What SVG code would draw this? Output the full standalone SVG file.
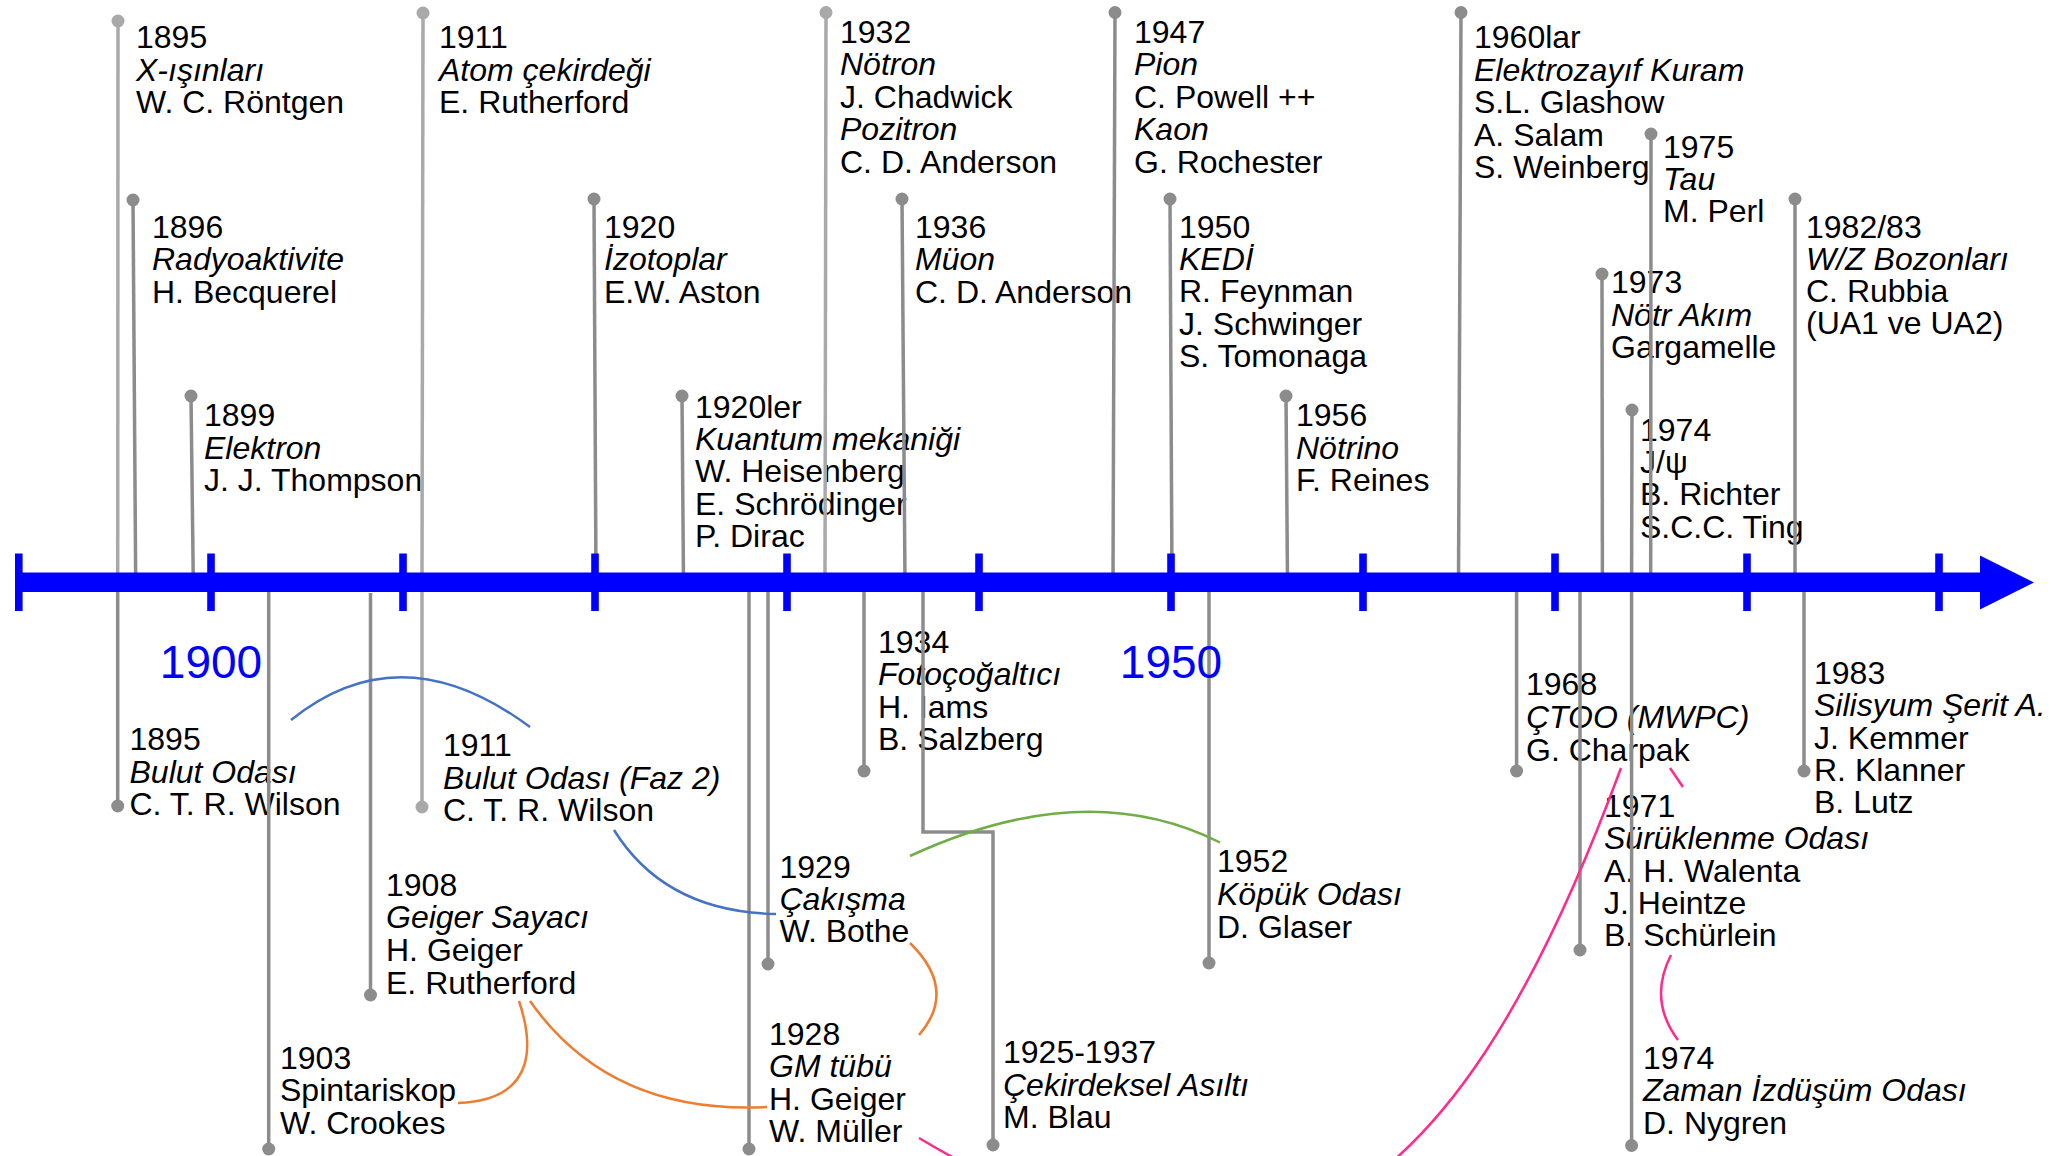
<svg xmlns="http://www.w3.org/2000/svg" width="2053" height="1156" viewBox="0 0 2053 1156">
<style>
  text { font-family: "Liberation Sans", Arial, sans-serif; font-size: 32px; fill: #000; }
  .i { font-style: italic; }
  .yr { font-size: 46px; fill: #0000ff; text-anchor: middle; }
  .s { stroke: #8c8c8c; stroke-width: 3.5; fill: none; }
  .sl { stroke: #a9a9a9; stroke-width: 3.5; fill: none; }
  .d { fill: #8c8c8c; }
  .dl { fill: #a9a9a9; }
  .c { fill: none; stroke-width: 2.5; }
  .blue { stroke: #4472c4; }
  .orange { stroke: #ed7d31; }
  .green { stroke: #70ad47; }
  .pink { stroke: #ff2a8e; }
</style>
<rect width="2053" height="1156" fill="#ffffff"/>

<!-- TOP EVENTS -->
<g id="ev-1895-xray">
  <line class="sl" x1="118" y1="21" x2="117.7" y2="582"/>
  <circle class="dl" cx="118" cy="21" r="6.5"/>
  <text x="136" y="48"><tspan x="136">1895</tspan><tspan x="136" dy="32.7" class="i">X-ışınları</tspan><tspan x="136" dy="32.7">W. C. Röntgen</tspan></text>
</g>
<g id="ev-1896">
  <line class="s" x1="133" y1="200" x2="135.7" y2="582"/>
  <circle class="d" cx="133" cy="200" r="6.5"/>
  <text x="152" y="237.5"><tspan x="152">1896</tspan><tspan x="152" dy="32.7" class="i">Radyoaktivite</tspan><tspan x="152" dy="32.7">H. Becquerel</tspan></text>
</g>
<g id="ev-1899">
  <line class="s" x1="191" y1="396" x2="193.3" y2="582"/>
  <circle class="d" cx="191" cy="396" r="6.5"/>
  <text x="204" y="426"><tspan x="204">1899</tspan><tspan x="204" dy="32.7" class="i">Elektron</tspan><tspan x="204" dy="32.7">J. J. Thompson</tspan></text>
</g>
<g id="ev-1911-atom">
  <line class="sl" x1="423" y1="13" x2="422" y2="582"/>
  <circle class="dl" cx="423" cy="13" r="6.5"/>
  <text x="439" y="48"><tspan x="439">1911</tspan><tspan x="439" dy="32.7" class="i">Atom çekirdeği</tspan><tspan x="439" dy="32.7">E. Rutherford</tspan></text>
</g>
<g id="ev-1920">
  <line class="s" x1="594" y1="199" x2="596" y2="582"/>
  <circle class="d" cx="594" cy="199" r="6.5"/>
  <text x="604" y="237.5"><tspan x="604">1920</tspan><tspan x="604" dy="32.7" class="i">İzotoplar</tspan><tspan x="604" dy="32.7">E.W. Aston</tspan></text>
</g>
<g id="ev-1920ler">
  <line class="s" x1="682" y1="396" x2="683.5" y2="582"/>
  <circle class="d" cx="682" cy="396" r="6.5"/>
  <text x="695" y="418"><tspan x="695">1920ler</tspan><tspan x="695" dy="32.2" class="i">Kuantum mekaniği</tspan><tspan x="695" dy="32.2">W. Heisenberg</tspan><tspan x="695" dy="32.2">E. Schrödinger</tspan><tspan x="695" dy="32.2">P. Dirac</tspan></text>
</g>
<g id="ev-1932">
  <line class="sl" x1="826" y1="12.5" x2="825" y2="582"/>
  <circle class="dl" cx="826" cy="12.5" r="6.5"/>
  <text x="840" y="43"><tspan x="840">1932</tspan><tspan x="840" dy="32.4" class="i">Nötron</tspan><tspan x="840" dy="32.4">J. Chadwick</tspan><tspan x="840" dy="32.4" class="i">Pozitron</tspan><tspan x="840" dy="32.4">C. D. Anderson</tspan></text>
</g>
<g id="ev-1936">
  <line class="s" x1="902" y1="199" x2="905" y2="582"/>
  <circle class="d" cx="902" cy="199" r="6.5"/>
  <text x="915" y="237.5"><tspan x="915">1936</tspan><tspan x="915" dy="32.7" class="i">Müon</tspan><tspan x="915" dy="32.7">C. D. Anderson</tspan></text>
</g>
<g id="ev-1947">
  <line class="s" x1="1115" y1="12.5" x2="1113" y2="582"/>
  <circle class="d" cx="1115" cy="12.5" r="6.5"/>
  <text x="1134" y="43"><tspan x="1134">1947</tspan><tspan x="1134" dy="32.4" class="i">Pion</tspan><tspan x="1134" dy="32.4">C. Powell ++</tspan><tspan x="1134" dy="32.4" class="i">Kaon</tspan><tspan x="1134" dy="32.4">G. Rochester</tspan></text>
</g>
<g id="ev-1950">
  <line class="s" x1="1170" y1="199" x2="1172" y2="582"/>
  <circle class="d" cx="1170" cy="199" r="6.5"/>
  <text x="1179" y="237.5"><tspan x="1179">1950</tspan><tspan x="1179" dy="32.4" class="i">KEDİ</tspan><tspan x="1179" dy="32.4">R. Feynman</tspan><tspan x="1179" dy="32.4">J. Schwinger</tspan><tspan x="1179" dy="32.4">S. Tomonaga</tspan></text>
</g>
<g id="ev-1956">
  <line class="s" x1="1286" y1="396" x2="1287.5" y2="582"/>
  <circle class="d" cx="1286" cy="396" r="6.5"/>
  <text x="1296" y="426"><tspan x="1296">1956</tspan><tspan x="1296" dy="32.7" class="i">Nötrino</tspan><tspan x="1296" dy="32.7">F. Reines</tspan></text>
</g>
<g id="ev-1960lar">
  <line class="s" x1="1461" y1="12.5" x2="1458.5" y2="582"/>
  <circle class="d" cx="1461" cy="12.5" r="6.5"/>
  <text x="1474" y="48"><tspan x="1474">1960lar</tspan><tspan x="1474" dy="32.6" class="i">Elektrozayıf Kuram</tspan><tspan x="1474" dy="32.6">S.L. Glashow</tspan><tspan x="1474" dy="32.6">A. Salam</tspan><tspan x="1474" dy="32.6">S. Weinberg</tspan></text>
</g>
<g id="ev-1973">
  <line class="s" x1="1602" y1="274" x2="1602.4" y2="582"/>
  <circle class="d" cx="1602" cy="274" r="6.5"/>
  <text x="1611" y="293"><tspan x="1611">1973</tspan><tspan x="1611" dy="32.5" class="i">Nötr Akım</tspan><tspan x="1611" dy="32.5">Gargamelle</tspan></text>
</g>
<g id="ev-1974-jpsi">
  <line class="s" x1="1632" y1="410" x2="1631.6" y2="582"/>
  <circle class="d" cx="1632" cy="410" r="6.5"/>
  <text x="1640" y="440.5"><tspan x="1640">1974</tspan><tspan x="1640" dy="32.4">J/ψ</tspan><tspan x="1640" dy="32.4">B. Richter</tspan><tspan x="1640" dy="32.4">S.C.C. Ting</tspan></text>
</g>
<g id="ev-1975">
  <line class="s" x1="1651" y1="134" x2="1650.7" y2="582"/>
  <circle class="d" cx="1651" cy="134" r="6.5"/>
  <text x="1663" y="158"><tspan x="1663">1975</tspan><tspan x="1663" dy="32" class="i">Tau</tspan><tspan x="1663" dy="32">M. Perl</tspan></text>
</g>
<g id="ev-1982">
  <line class="s" x1="1795" y1="199" x2="1795" y2="582"/>
  <circle class="d" cx="1795" cy="199" r="6.5"/>
  <text x="1806" y="237.5"><tspan x="1806">1982/83</tspan><tspan x="1806" dy="32.2" class="i">W/Z Bozonları</tspan><tspan x="1806" dy="32.2">C. Rubbia</tspan><tspan x="1806" dy="32.2">(UA1 ve UA2)</tspan></text>
</g>

<!-- BOTTOM EVENTS -->
<g id="ev-1895-bulut">
  <line class="s" x1="117.7" y1="586" x2="117.7" y2="806"/>
  <circle class="d" cx="117.7" cy="806" r="6.5"/>
  <text x="129.5" y="750"><tspan x="129.5">1895</tspan><tspan x="129.5" dy="32.7" class="i">Bulut Odası</tspan><tspan x="129.5" dy="32.7">C. T. R. Wilson</tspan></text>
</g>
<g id="ev-1903">
  <line class="s" x1="268.7" y1="590" x2="268.7" y2="1149"/>
  <circle class="d" cx="268.7" cy="1149" r="6.5"/>
  <text x="280" y="1069"><tspan x="280">1903</tspan><tspan x="280" dy="32.3">Spintariskop</tspan><tspan x="280" dy="32.3">W. Crookes</tspan></text>
</g>
<g id="ev-1908">
  <line class="s" x1="370.5" y1="593" x2="370.5" y2="995"/>
  <circle class="d" cx="370.5" cy="995" r="6.5"/>
  <text x="386" y="895.5"><tspan x="386">1908</tspan><tspan x="386" dy="32.7" class="i">Geiger Sayacı</tspan><tspan x="386" dy="32.7">H. Geiger</tspan><tspan x="386" dy="32.7">E. Rutherford</tspan></text>
</g>
<g id="ev-1911-bulut">
  <line class="sl" x1="422" y1="586" x2="422" y2="807"/>
  <circle class="dl" cx="422" cy="807" r="6.5"/>
  <text x="443" y="756"><tspan x="443">1911</tspan><tspan x="443" dy="32.7" class="i">Bulut Odası (Faz 2)</tspan><tspan x="443" dy="32.7">C. T. R. Wilson</tspan></text>
</g>
<g id="ev-1928">
  <line class="s" x1="749" y1="586" x2="749" y2="1149"/>
  <circle class="d" cx="749" cy="1149" r="6.5"/>
  <text x="769" y="1045"><tspan x="769">1928</tspan><tspan x="769" dy="32.3" class="i">GM tübü</tspan><tspan x="769" dy="32.3">H. Geiger</tspan><tspan x="769" dy="32.3">W. Müller</tspan></text>
</g>
<g id="ev-1929">
  <line class="s" x1="768" y1="586" x2="768" y2="964"/>
  <circle class="d" cx="768" cy="964" r="6.5"/>
  <text x="779.5" y="877.5"><tspan x="779.5">1929</tspan><tspan x="779.5" dy="32.3" class="i">Çakışma</tspan><tspan x="779.5" dy="32.3">W. Bothe</tspan></text>
</g>
<g id="ev-1934">
  <line class="s" x1="864" y1="586" x2="864" y2="771"/>
  <circle class="d" cx="864" cy="771" r="6.5"/>
  <text x="878" y="653"><tspan x="878">1934</tspan><tspan x="878" dy="32.3" class="i">Fotoçoğaltıcı</tspan><tspan x="878" dy="32.3">H. Iams</tspan><tspan x="878" dy="32.3">B. Salzberg</tspan></text>
</g>
<g id="ev-1925-1937">
  <polyline class="s" points="923,586 923,832 993,832 993,1145"/>
  <circle class="d" cx="993" cy="1145" r="6.5"/>
  <text x="1003" y="1063"><tspan x="1003">1925-1937</tspan><tspan x="1003" dy="32.5" class="i">Çekirdeksel Asıltı</tspan><tspan x="1003" dy="32.5">M. Blau</tspan></text>
</g>
<g id="ev-1952">
  <line class="s" x1="1209" y1="586" x2="1209" y2="963"/>
  <circle class="d" cx="1209" cy="963" r="6.5"/>
  <text x="1217" y="872"><tspan x="1217">1952</tspan><tspan x="1217" dy="32.9" class="i">Köpük Odası</tspan><tspan x="1217" dy="32.9">D. Glaser</tspan></text>
</g>
<g id="ev-1968">
  <line class="s" x1="1516.6" y1="586" x2="1516.6" y2="771"/>
  <circle class="d" cx="1516.6" cy="771" r="6.5"/>
  <text x="1526" y="695"><tspan x="1526">1968</tspan><tspan x="1526" dy="32.9" class="i">ÇTOO (MWPC)</tspan><tspan x="1526" dy="32.9">G. Charpak</tspan></text>
</g>
<g id="ev-1971">
  <line class="s" x1="1580" y1="586" x2="1580" y2="950"/>
  <circle class="d" cx="1580" cy="950" r="6.5"/>
  <text x="1604" y="817"><tspan x="1604">1971</tspan><tspan x="1604" dy="32.3" class="i">Sürüklenme Odası</tspan><tspan x="1604" dy="32.3">A. H. Walenta</tspan><tspan x="1604" dy="32.3">J. Heintze</tspan><tspan x="1604" dy="32.3">B. Schürlein</tspan></text>
</g>
<g id="ev-1974-tpc">
  <line class="s" x1="1631.6" y1="586" x2="1631.6" y2="1145.5"/>
  <circle class="d" cx="1631.6" cy="1145.5" r="6.5"/>
  <text x="1643" y="1069"><tspan x="1643">1974</tspan><tspan x="1643" dy="32.3" class="i">Zaman İzdüşüm Odası</tspan><tspan x="1643" dy="32.3">D. Nygren</tspan></text>
</g>
<g id="ev-1983">
  <line class="s" x1="1804" y1="586" x2="1804" y2="771"/>
  <circle class="d" cx="1804" cy="771" r="6.5"/>
  <text x="1814" y="684"><tspan x="1814">1983</tspan><tspan x="1814" dy="32.3" class="i">Silisyum Şerit A.</tspan><tspan x="1814" dy="32.3">J. Kemmer</tspan><tspan x="1814" dy="32.3">R. Klanner</tspan><tspan x="1814" dy="32.3">B. Lutz</tspan></text>
</g>

<!-- AXIS -->
<g id="axis" fill="#0000ff">
  <rect x="18" y="572.5" width="1962" height="19.5"/>
  <polygon points="1980,555.5 2034,582.5 1980,609.5"/>
  <rect x="15" y="553.5" width="7.6" height="57.5"/>
  <rect x="207.2" y="553.5" width="7.6" height="57.5"/>
  <rect x="399.2" y="553.5" width="7.6" height="57.5"/>
  <rect x="591.2" y="553.5" width="7.6" height="57.5"/>
  <rect x="783.2" y="553.5" width="7.6" height="57.5"/>
  <rect x="975.2" y="553.5" width="7.6" height="57.5"/>
  <rect x="1167.2" y="553.5" width="7.6" height="57.5"/>
  <rect x="1359.2" y="553.5" width="7.6" height="57.5"/>
  <rect x="1551.2" y="553.5" width="7.6" height="57.5"/>
  <rect x="1743.2" y="553.5" width="7.6" height="57.5"/>
  <rect x="1935.2" y="553.5" width="7.6" height="57.5"/>
  <text class="yr" x="211" y="678">1900</text>
  <text class="yr" x="1171" y="678">1950</text>
</g>

<!-- CONNECTORS -->
<g id="connectors">
  <path class="c blue" d="M291,720 Q401,631 530,727"/>
  <path class="c blue" d="M614,830 Q665,912 776,914"/>
  <path class="c orange" d="M519,1001 C532,1040 540,1100 458,1103"/>
  <path class="c orange" d="M530,1001 Q610,1115 767,1107"/>
  <path class="c orange" d="M910,943 Q958,990 919,1035"/>
  <path class="c green" d="M910,856 Q1085,775 1220,842.5"/>
  <path class="c pink" d="M919,1138 C1255,1338 1447,1238 1621,768"/>
  <path class="c pink" d="M1670,768 L1683,787"/>
  <path class="c pink" d="M1671,955 Q1648,1000 1678,1040"/>
</g>
</svg>
